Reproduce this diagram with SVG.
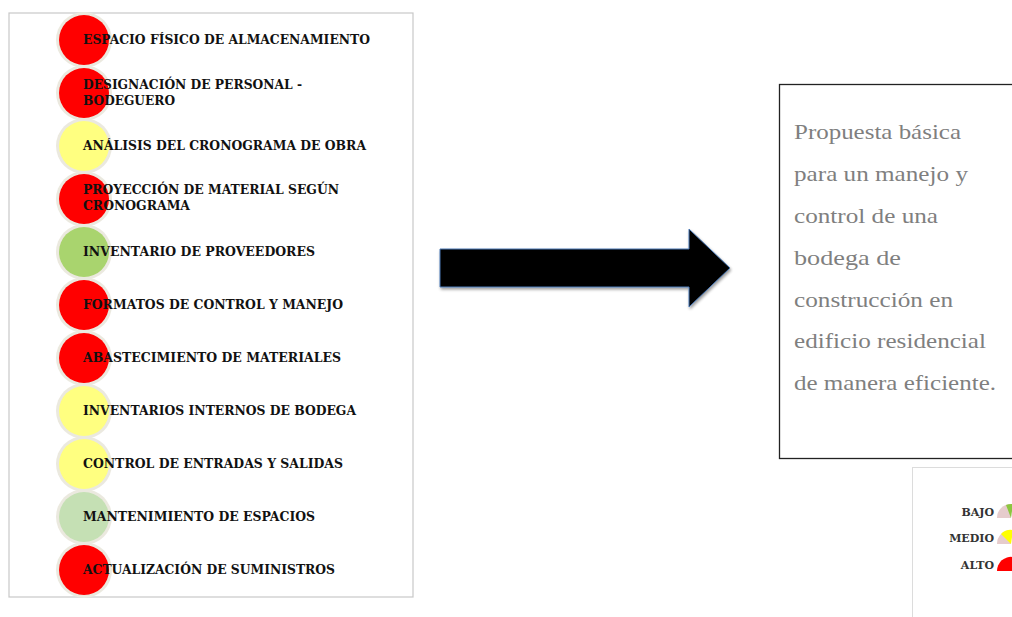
<svg xmlns="http://www.w3.org/2000/svg" width="1012" height="617" viewBox="0 0 1012 617">
<style>
.panel{fill:#fff;stroke:#c8c8c8;stroke-width:1.2}
.halo{fill:#ebe9df}
.red{fill:#ff0000}
.yel{fill:#ffff80}
.grn{fill:#a9d46e}
.lgr{fill:#c5e0b4}
.lbl{font-family:"DejaVu Serif",serif;font-weight:bold;font-size:13px;fill:#111}
.prop{font-family:"Liberation Serif","Times New Roman",serif;font-size:21px;fill:#7f7f7f}
.leg{font-family:"DejaVu Serif",serif;font-weight:bold;font-size:11px;fill:#333;text-anchor:end}
</style>
<defs>
<filter id="sh" x="-10%" y="-20%" width="130%" height="150%">
<feGaussianBlur in="SourceAlpha" stdDeviation="1.5"/>
<feOffset dx="1" dy="2" result="b"/>
<feComponentTransfer><feFuncA type="linear" slope="0.4"/></feComponentTransfer>
<feMerge><feMergeNode/><feMergeNode in="SourceGraphic"/></feMerge>
</filter>
</defs>
<rect width="1012" height="617" fill="#fff"/>
<rect class="panel" x="9" y="13" width="404" height="584"/>

<g id="n1"><circle class="halo" cx="84" cy="40" r="28"/><circle class="red" cx="84" cy="40" r="25"/><text class="lbl" x="83" y="44" textLength="287" lengthAdjust="spacingAndGlyphs">ESPACIO FÍSICO DE ALMACENAMIENTO</text></g>
<g id="n2"><circle class="halo" cx="84" cy="93" r="28"/><circle class="red" cx="84" cy="93" r="25"/><text class="lbl" x="83" y="89" textLength="219" lengthAdjust="spacingAndGlyphs">DESIGNACIÓN DE PERSONAL -</text><text class="lbl" x="83" y="105" textLength="92" lengthAdjust="spacingAndGlyphs">BODEGUERO</text></g>
<g id="n3"><circle class="halo" cx="84" cy="146" r="28"/><circle class="yel" cx="84" cy="146" r="25"/><text class="lbl" x="83" y="150" textLength="283" lengthAdjust="spacingAndGlyphs">ANÁLISIS DEL CRONOGRAMA DE OBRA</text></g>
<g id="n4"><circle class="halo" cx="84" cy="199" r="28"/><circle class="red" cx="84" cy="199" r="25"/><text class="lbl" x="83" y="194" textLength="256" lengthAdjust="spacingAndGlyphs">PROYECCIÓN DE MATERIAL SEGÚN</text><text class="lbl" x="83" y="210" textLength="107" lengthAdjust="spacingAndGlyphs">CRONOGRAMA</text></g>
<g id="n5"><circle class="halo" cx="84" cy="252" r="28"/><circle class="grn" cx="84" cy="252" r="25"/><text class="lbl" x="83" y="256" textLength="232" lengthAdjust="spacingAndGlyphs">INVENTARIO DE PROVEEDORES</text></g>
<g id="n6"><circle class="halo" cx="84" cy="305" r="28"/><circle class="red" cx="84" cy="305" r="25"/><text class="lbl" x="83" y="309" textLength="260" lengthAdjust="spacingAndGlyphs">FORMATOS DE CONTROL Y MANEJO</text></g>
<g id="n7"><circle class="halo" cx="84" cy="358" r="28"/><circle class="red" cx="84" cy="358" r="25"/><text class="lbl" x="83" y="362" textLength="258" lengthAdjust="spacingAndGlyphs">ABASTECIMIENTO DE MATERIALES</text></g>
<g id="n8"><circle class="halo" cx="84" cy="411" r="28"/><circle class="yel" cx="84" cy="411" r="25"/><text class="lbl" x="83" y="415" textLength="273" lengthAdjust="spacingAndGlyphs">INVENTARIOS INTERNOS DE BODEGA</text></g>
<g id="n9"><circle class="halo" cx="84" cy="464" r="28"/><circle class="yel" cx="84" cy="464" r="25"/><text class="lbl" x="83" y="468" textLength="260" lengthAdjust="spacingAndGlyphs">CONTROL DE ENTRADAS Y SALIDAS</text></g>
<g id="n10"><circle class="halo" cx="84" cy="517" r="28"/><circle class="lgr" cx="84" cy="517" r="25"/><text class="lbl" x="83" y="521" textLength="232" lengthAdjust="spacingAndGlyphs">MANTENIMIENTO DE ESPACIOS</text></g>
<g id="n11"><circle class="halo" cx="84" cy="570" r="28"/><circle class="red" cx="84" cy="570" r="25"/><text class="lbl" x="83" y="574" textLength="252" lengthAdjust="spacingAndGlyphs">ACTUALIZACIÓN DE SUMINISTROS</text></g>

<g id="connectors">
<polygon points="440,249 689,249 689,229 730,268 689,307 689,287 440,287" fill="#000" stroke="#4a78b5" stroke-width="1" filter="url(#sh)"/>
</g>

<g id="proposal">
<rect x="779.5" y="84.5" width="240" height="374" fill="#fff" stroke="#222" stroke-width="1.3"/>
<text class="prop" x="794" y="139" textLength="167" lengthAdjust="spacingAndGlyphs">Propuesta básica</text>
<text class="prop" x="794" y="181" textLength="174" lengthAdjust="spacingAndGlyphs">para un manejo y</text>
<text class="prop" x="794" y="223" textLength="144" lengthAdjust="spacingAndGlyphs">control de una</text>
<text class="prop" x="794" y="265" textLength="107" lengthAdjust="spacingAndGlyphs">bodega de</text>
<text class="prop" x="794" y="307" textLength="159" lengthAdjust="spacingAndGlyphs">construcción en</text>
<text class="prop" x="794" y="348" textLength="192" lengthAdjust="spacingAndGlyphs">edificio residencial</text>
<text class="prop" x="794" y="390" textLength="202" lengthAdjust="spacingAndGlyphs">de manera eficiente.</text>
</g>

<g id="legend">
<rect x="912.5" y="467.5" width="120" height="170" fill="#fff" stroke="#dcdcdc" stroke-width="1"/>
<text class="leg" x="994" y="516">BAJO</text>
<path d="M997,518 A14,14 0 0 1 1011,504 L1011,518 Z" fill="#e6cccc"/>
<path d="M1011,518 L1006,505 A14,14 0 0 1 1013,504 Z" fill="#8cc63f"/>
<text class="leg" x="994" y="542">MEDIO</text>
<path d="M997,544 A14,14 0 0 1 1011,530 L1011,544 Z" fill="#e6cccc"/>
<path d="M1011,544 L1001,534 A14,14 0 0 1 1013,530 Z" fill="#ffff00"/>
<text class="leg" x="994" y="569">ALTO</text>
<path d="M997,571 A14,14 0 0 1 1013,557 L1013,571 Z" fill="#ff0000"/>
</g>
</svg>
